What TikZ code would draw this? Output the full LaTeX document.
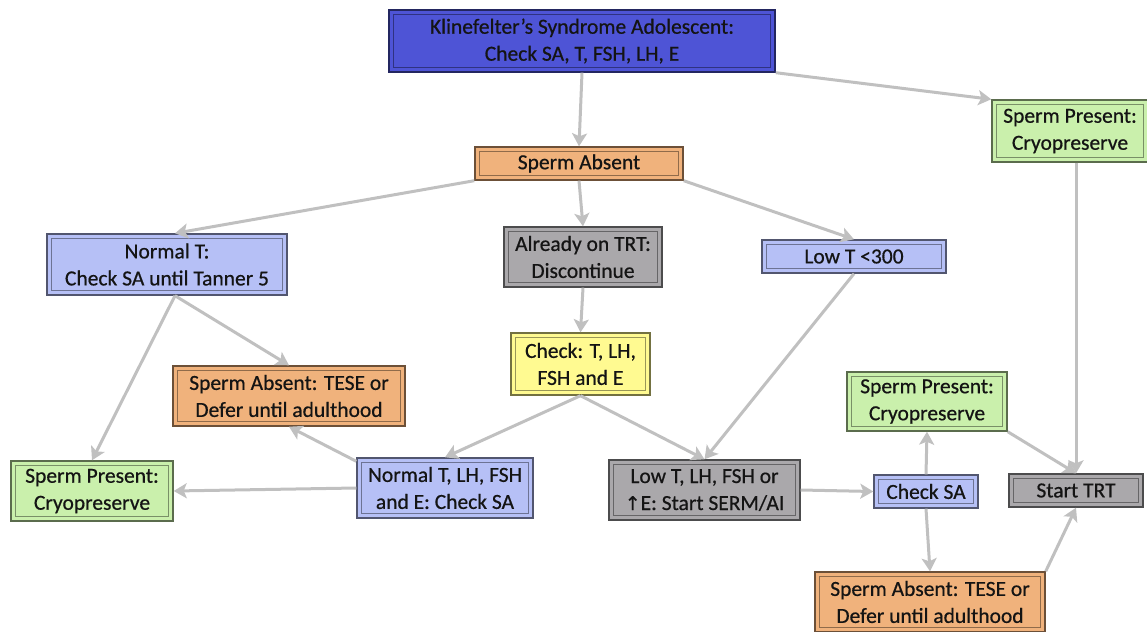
\documentclass[tikz,border=0pt]{standalone}
\usepackage{fontspec}
\setmainfont{Carlito}
\newfontfamily\bxf{Carlito}[FakeBold=0.6]
\newfontfamily\djv{DejaVu Sans}[FakeBold=0.6]
\usetikzlibrary{arrows.meta}
\definecolor{cblue}{RGB}{78,84,214}
\definecolor{corange}{RGB}{240,178,124}
\definecolor{clblue}{RGB}{182,192,246}
\definecolor{cgray}{RGB}{170,168,171}
\definecolor{cyellow}{RGB}{255,250,145}
\definecolor{cgreen}{RGB}{202,240,172}
\definecolor{carrow}{RGB}{192,192,192}
\definecolor{ctext}{RGB}{20,20,20}
\tikzset{
  kbox/.style={fill=#1, draw=#1!45!black, line width=1.4pt, inner sep=0pt,
    align=center, text=ctext, font=\bxf\fontsize{21.5}{27}\selectfont,
    path picture={\draw[#1!60!black, line width=0.7pt]
      ([shift={(4.5pt,-4.5pt)}]path picture bounding box.north west) rectangle
      ([shift={(-4.5pt,4.5pt)}]path picture bounding box.south east);}},
  conn/.style={draw=carrow, line width=3pt,
    -{Stealth[length=13pt,width=15pt,inset=3pt]}}
}
\begin{document}
\begin{tikzpicture}[x=1pt,y=-1pt]
\useasboundingbox (0,0) rectangle (1147,631);
\node[kbox=cblue, minimum width=386pt, minimum height=62pt] (top) at (582,41)
  {Klinefelter’s Syndrome Adolescent:\\Check SA, T, FSH, LH, E};
\node[kbox=corange, minimum width=208pt, minimum height=33pt] (sabs) at (579,163.5) {Sperm Absent};
\node[kbox=cgreen, minimum width=156pt, minimum height=62pt] (spR) at (1070,131) {Sperm Present:\\Cryopreserve};
\node[kbox=clblue, minimum width=240pt, minimum height=61pt] (normT) at (167,264.5) {Normal T:\\Check SA until Tanner 5};
\node[kbox=cgray, minimum width=158pt, minimum height=60pt] (trt) at (583,257) {Already on TRT:\\Discontinue};
\node[kbox=clblue, minimum width=184pt, minimum height=33pt] (lowT) at (854,256.5) {Low T <300};
\node[kbox=cyellow, minimum width=139pt, minimum height=62pt] (check) at (580.5,364) {Check: T, LH,\\FSH and E};
\node[kbox=corange, minimum width=232pt, minimum height=60pt] (tese1) at (289,396) {Sperm Absent: TESE or\\Defer until adulthood};
\node[kbox=cgreen, minimum width=160pt, minimum height=59pt] (spM) at (927,401.5) {Sperm Present:\\Cryopreserve};
\node[kbox=cgreen, minimum width=162pt, minimum height=60pt] (spL) at (92,491) {Sperm Present:\\Cryopreserve};
\node[kbox=clblue, minimum width=176pt, minimum height=60pt] (normLH) at (445,488) {Normal T, LH, FSH\\and E: Check SA};
\node[kbox=cgray, minimum width=191pt, minimum height=60pt] (lowLH) at (704.5,490) {Low T, LH, FSH or\\{\djv\fontsize{19}{27}\selectfont ↑}E: Start SERM/AI};
\node[kbox=clblue, minimum width=104pt, minimum height=33pt] (checkSA) at (926,491.5) {Check SA};
\node[kbox=cgray, minimum width=134pt, minimum height=33pt] (startTRT) at (1076,490.5) {Start TRT};
\node[kbox=corange, minimum width=230pt, minimum height=60pt] (tese2) at (930,602) {Sperm Absent: TESE or\\Defer until adulthood};

\draw[conn] (top.south) -- (sabs.north);
\draw[conn] (top.south east) -- (spR.north west);
\draw[conn] (sabs.south west) -- ([xshift=8pt]normT.north);
\draw[conn] (sabs.south) -- (trt.north);
\draw[conn] (sabs.south east) -- (lowT.north);
\draw[conn] (trt.south) -- (check.north);
\draw[conn] ([xshift=8pt]normT.south) -- (spL.north);
\draw[conn] ([xshift=8pt]normT.south) -- (tese1.north);
\draw[conn] (check.south) -- (normLH.north);
\draw[conn] (check.south) -- (lowLH.north);
\draw[conn] (lowT.south) -- (lowLH.north);
\draw[conn] ([yshift=-4pt]normLH.north west) -- (tese1.south);
\draw[conn] (normLH.west) -- (spL.east);
\draw[conn] (lowLH.east) -- (checkSA.west);
\draw[conn] (checkSA.north) -- (spM.north |- spM.south);
\draw[conn] (checkSA.south) -- (tese2.north);
\draw[conn] (spM.south east) -- (startTRT.north);
\draw[conn] (startTRT.north |- spR.south) -- (startTRT.north);
\draw[conn] (tese2.north east) -- (startTRT.south);
\end{tikzpicture}
\end{document}
